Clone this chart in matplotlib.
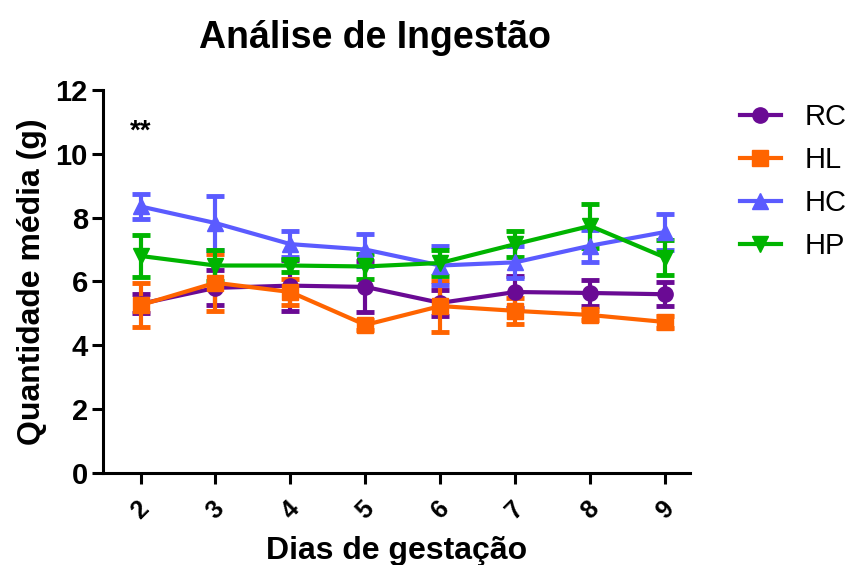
import matplotlib
matplotlib.use("Agg")
import matplotlib.pyplot as plt

plt.rcParams['font.family'] = ['Liberation Sans', 'DejaVu Sans']

# dias de gestação
dias = [2, 3, 4, 5, 6, 7, 8, 9]
yticks = [0, 2, 4, 6, 8, 10, 12]

# médias (g) e erros
rc_mean = [5.30, 5.80, 5.87, 5.83, 5.33, 5.67, 5.64, 5.60]
rc_err = [0.30, 0.55, 0.80, 0.80, 0.40, 0.50, 0.42, 0.38]
hl_mean = [5.26, 5.96, 5.67, 4.64, 5.23, 5.08, 4.95, 4.73]
hl_err = [0.70, 0.90, 0.40, 0.15, 0.80, 0.40, 0.15, 0.20]
hc_mean = [8.35, 7.83, 7.17, 7.00, 6.50, 6.60, 7.12, 7.55]
hc_err = [0.40, 0.85, 0.40, 0.50, 0.60, 0.50, 0.50, 0.55]
hp_mean = [6.80, 6.50, 6.50, 6.47, 6.58, 7.17, 7.74, 6.75]
hp_err = [0.65, 0.48, 0.20, 0.40, 0.40, 0.40, 0.70, 0.55]

series = [
    ('RC', rc_mean, rc_err, '#6a0a94', 'o'),
    ('HL', hl_mean, hl_err, '#ff6400', 's'),
    ('HC', hc_mean, hc_err, '#5b5bff', '^'),
    ('HP', hp_mean, hp_err, '#00b400', 'v'),
]

fig = plt.figure(figsize=(8.53, 5.65), dpi=100)
ax = fig.add_axes([0.1208, 0.1628, 0.688, 0.678])

for name, m, e, c, mk in series:
    ax.errorbar(dias, m, yerr=e, color=c, marker=mk, markersize=11,
                linewidth=3, elinewidth=3, capsize=6.5, capthick=3.5,
                label=name)

ax.text(2, 10.7, '**', fontsize=20, fontweight='bold', ha='center', va='center')

ax.set_xlim(1.5, 9.33)
ax.set_ylim(0, 12)
ax.set_yticks(yticks)
ax.set_xticks(dias)
ax.set_xticklabels([str(d) for d in dias], rotation=45, ha='center',
                   fontsize=18, fontweight='bold')
ax.set_yticklabels([str(v) for v in yticks], fontsize=21, fontweight='bold')

for s in ['top', 'right']:
    ax.spines[s].set_visible(False)
for s in ['left', 'bottom']:
    ax.spines[s].set_linewidth(2.2)
ax.tick_params(width=2.2, length=8)
ax.tick_params(axis='x', pad=9)
ax.tick_params(axis='y', pad=3)

ax.set_xlabel('Dias de gestação', fontsize=23, fontweight='bold', labelpad=9)
ax.set_ylabel('Quantidade média (g)', fontsize=23, fontweight='bold', labelpad=6)
ax.set_title('Análise de Ingestão', fontsize=27, fontweight='bold', pad=30, x=0.463)

handles, labels = ax.get_legend_handles_labels()
handles = [h[0] for h in handles]
fig.legend(handles, labels, loc='upper left', bbox_to_anchor=(0.8675, 0.818),
           frameon=False, fontsize=21, handlelength=1.4, labelspacing=0.52,
           handletextpad=0.8, borderpad=0, borderaxespad=0)

fig.savefig('out.png', dpi=100)
